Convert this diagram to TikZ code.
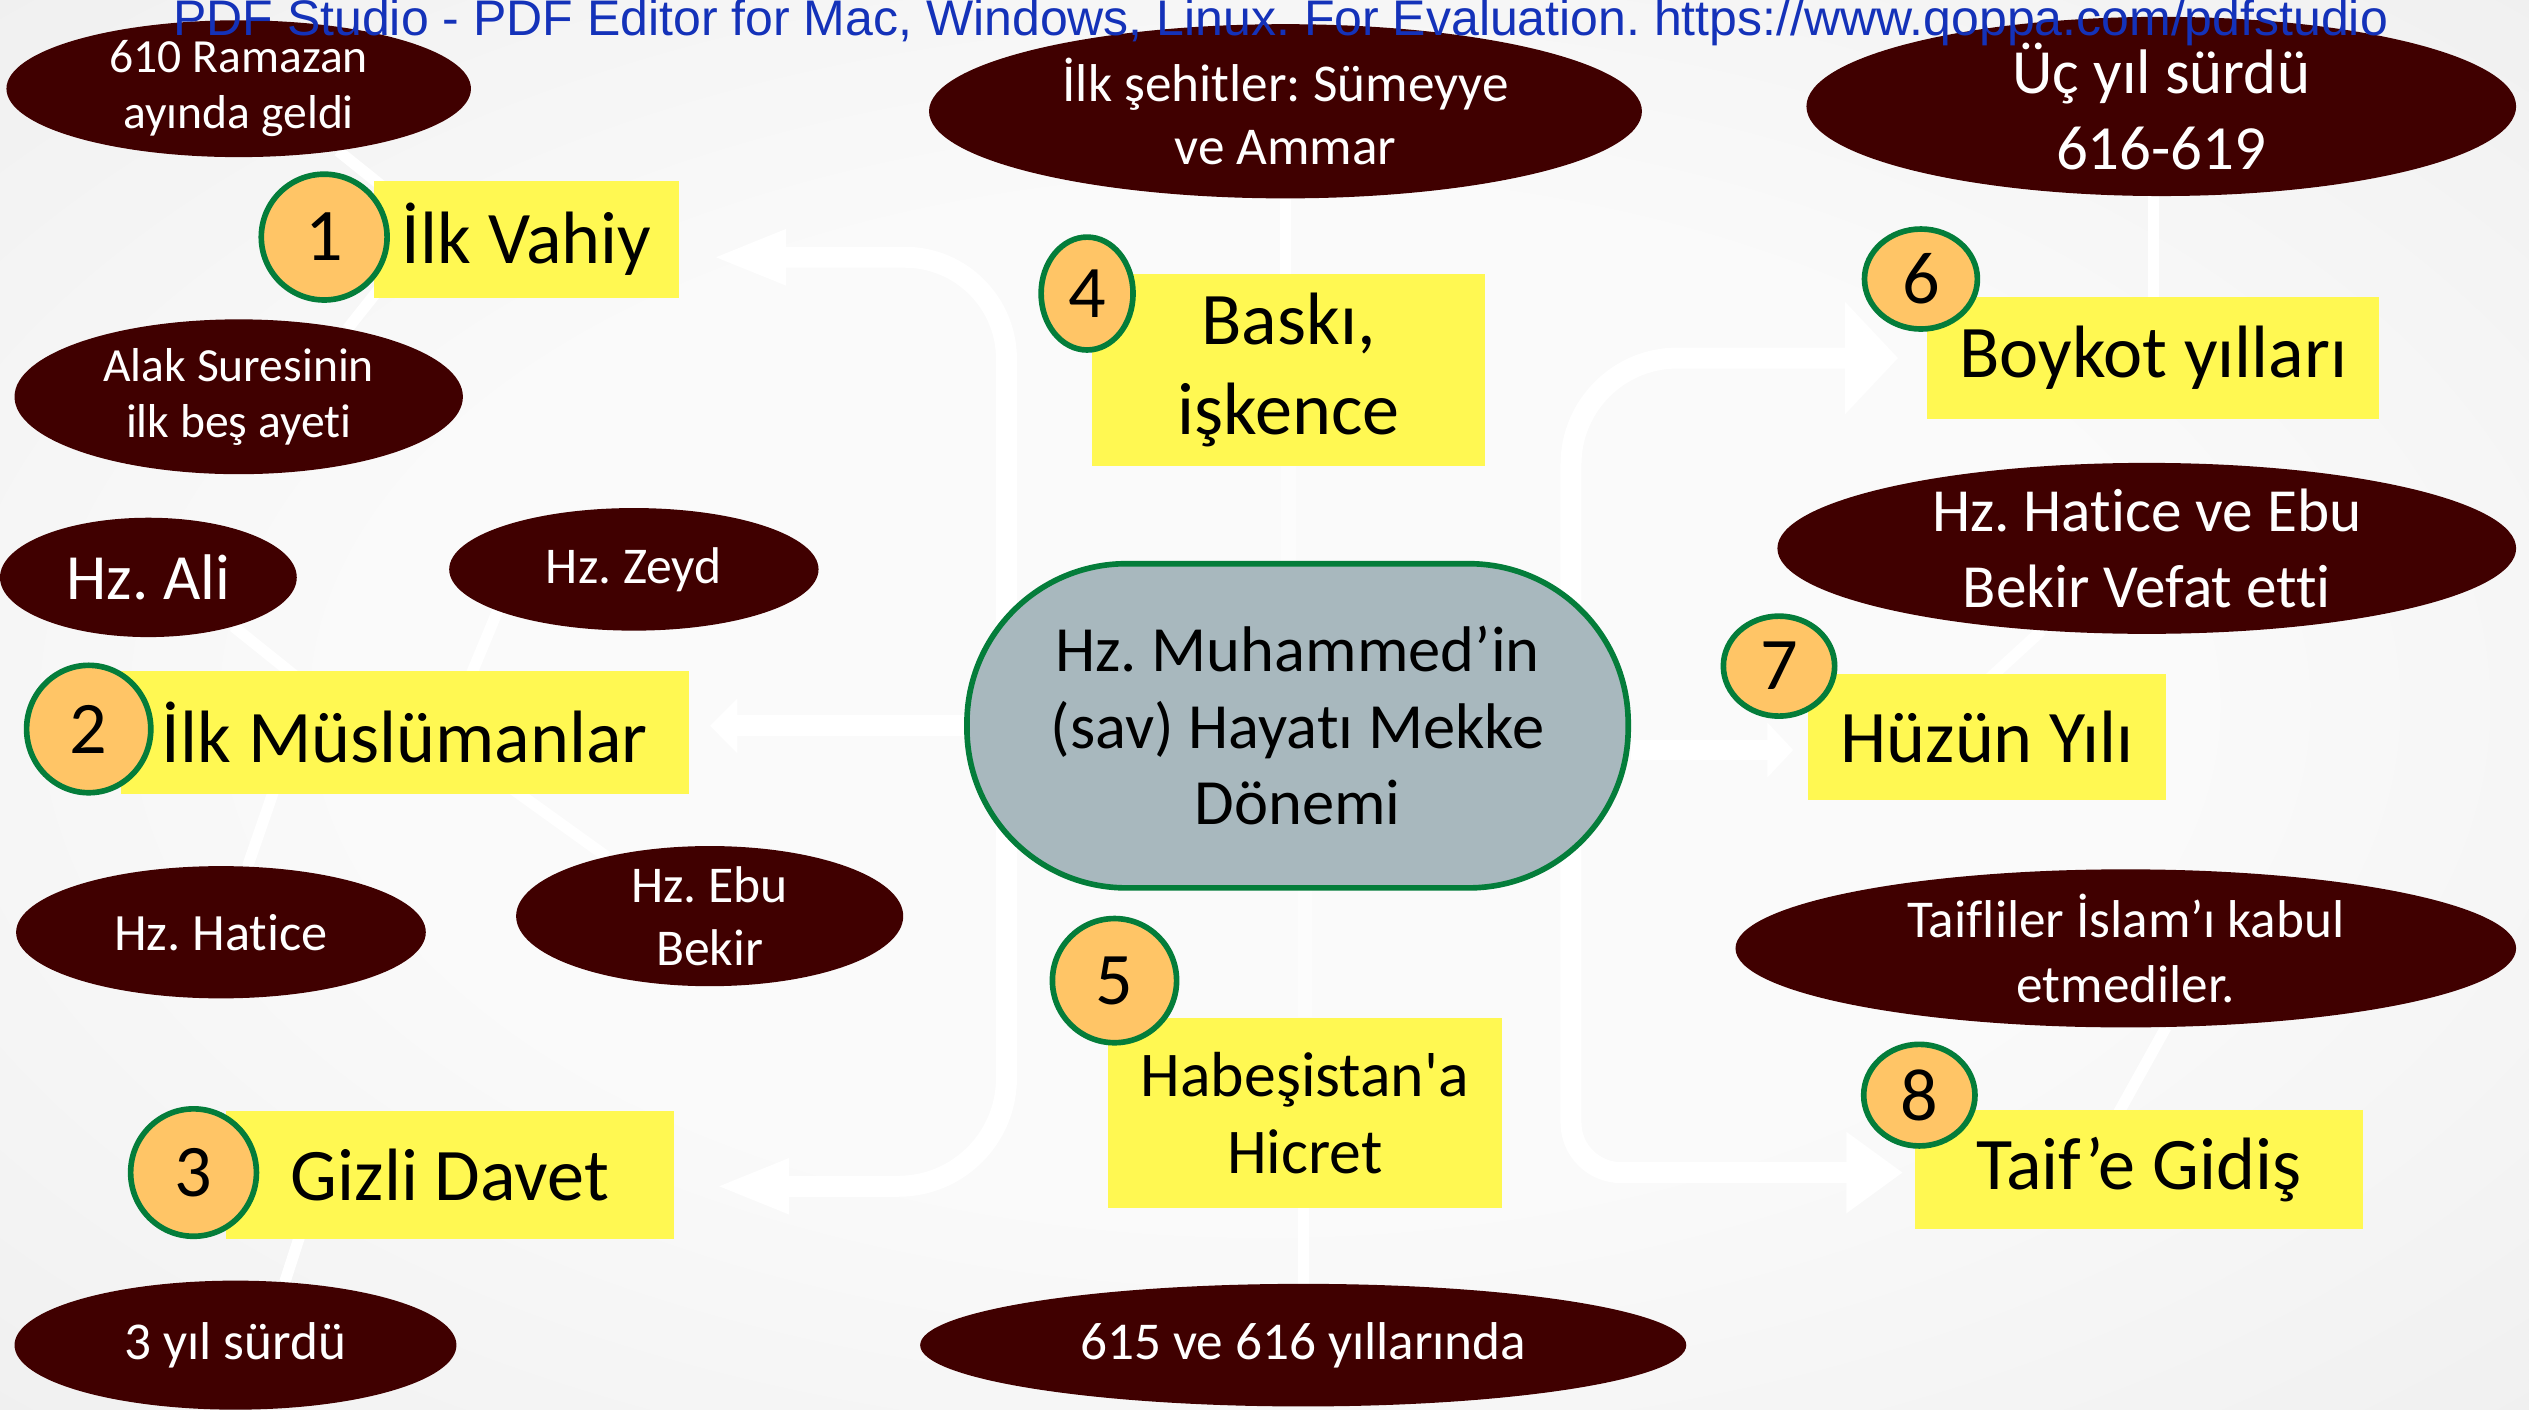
\documentclass[tikz,border=0pt]{standalone}
\usepackage{fontspec}
\setmainfont{Carlito}[Ligatures={TeX,NoCommon}]
\newfontfamily\wmfont{Liberation Sans}
\usetikzlibrary{shapes.geometric,arrows.meta,calc}
\definecolor{maroon}{RGB}{64,0,0}
\definecolor{boxyellow}{RGB}{255,248,82}
\definecolor{circorange}{RGB}{255,197,102}
\definecolor{circgreen}{RGB}{4,125,58}
\definecolor{cengray}{RGB}{168,184,190}
\definecolor{wmblue}{RGB}{20,50,185}
\definecolor{bgin}{RGB}{250,250,250}
\definecolor{bgmid}{RGB}{232,232,232}
\definecolor{bgout}{RGB}{208,208,208}
\pgfdeclareradialshading{bgshade}{\pgfpoint{0bp}{0bp}}{color(0bp)=(bgin); color(18bp)=(bgin); color(50bp)=(bgmid); color(72bp)=(bgout)}
\pgfdeclarelayer{bg}
\pgfdeclarelayer{lines}
\pgfsetlayers{bg,lines,main}
\newcommand{\fs}[2]{\fontsize{#1}{#2}\selectfont}
\frenchspacing
\begin{document}
\begin{tikzpicture}[x=1pt,y=-1pt,
  ell/.style={ellipse, fill=maroon, text=white, inner sep=0pt, align=center},
  ybox/.style={rectangle, fill=boxyellow, inner sep=0pt, align=center, text=black, font=\fs{46}{56}},
  num/.style={ellipse, fill=circorange, draw=circgreen, line width=3.5pt, inner sep=0pt, font=\fs{46}{50}},
  spoke/.style={draw=white, line width=7pt},
  faint/.style={draw=white, line width=9pt, opacity=0.45},
  trunk/.style={draw=white, line width=13pt}]
\useasboundingbox (0,0) rectangle (1568,874);
\begin{pgfonlayer}{bg}
\shade[shading=bgshade] (0,0) rectangle (1568,874);
\end{pgfonlayer}

% ellipses
\node[ell, minimum width=288pt, minimum height=84pt, font=\fs{29.5}{35}] (e1) at (148,55) {610 Ramazan\\ayında geldi};
\node[ell, minimum width=278pt, minimum height=96pt, font=\fs{29.5}{35}] (e2) at (148,246) {Alak Suresinin\\ilk beş ayeti};
\node[ell, minimum width=184pt, minimum height=74pt, font=\fs{40}{42}] (e3) at (92,358) {Hz. Ali};
\node[ell, minimum width=229pt, minimum height=76pt, font=\fs{32}{36}] (e4) at (393,353) {Hz. Zeyd};
\node[ell, minimum width=254pt, minimum height=82pt, font=\fs{32.5}{36}] (e5) at (137,578) {Hz. Hatice};
\node[ell, minimum width=240pt, minimum height=84pt, font=\fs{32}{39}] (e6) at (440,568) {Hz. Ebu\\Bekir};
\node[ell, minimum width=274pt, minimum height=80pt, font=\fs{33}{36}] (e7) at (146,834) {3 yıl sürdü};
\node[ell, minimum width=442pt, minimum height=108pt, font=\fs{33}{39}] (e8) at (797,69) {İlk şehitler: Sümeyye\\ve Ammar};
\node[ell, minimum width=475pt, minimum height=76pt, font=\fs{33}{38}] (e9) at (808,834) {615 ve 616 yıllarında};
\node[ell, minimum width=440pt, minimum height=102pt, font=\fs{39}{47}] (e10) at (1340,66) {Üç yıl sürdü\\616-619};
\node[ell, minimum width=458pt, minimum height=106pt, font=\fs{38}{47}] (e11) at (1331,340) {Hz. Hatice ve Ebu\\Bekir Vefat etti};
\node[ell, minimum width=484pt, minimum height=98pt, font=\fs{33}{40}] (e12) at (1318,588) {Taifliler İslam’ı kabul\\etmediler.};

% yellow boxes
\node[ybox, minimum width=189pt, minimum height=73pt] (b1) at (326.5,148.5) {İlk Vahiy};
\node[ybox, minimum width=352pt, minimum height=76pt] (b2) at (251,454) {İlk Müslümanlar};
\node[ybox, minimum width=278pt, minimum height=79pt] (b3) at (279,728.5) {Gizli Davet};
\node[ybox, minimum width=244pt, minimum height=119pt] (b4) at (799,229.5) {Baskı,\\işkence};
\node[ybox, minimum width=244pt, minimum height=118pt, font=\fs{39.5}{48}] (b5) at (809,690) {Habeşistan\textquotesingle a\\Hicret};
\node[ybox, minimum width=280pt, minimum height=76pt] (b6) at (1335,222) {Boykot yılları};
\node[ybox, minimum width=222pt, minimum height=78pt] (b7) at (1232,457) {Hüzün Yılı};
\node[ybox, minimum width=278pt, minimum height=74pt] (b8) at (1326,725) {Taif’e Gidiş};

% number circles
\node[num, minimum width=78pt, minimum height=78pt] (c1) at (201,147) {1};
\node[num, minimum width=77pt, minimum height=79pt] (c2) at (55,452) {2};
\node[num, minimum width=78pt, minimum height=79pt] (c3) at (120,727) {3};
\node[num, minimum width=57pt, minimum height=70pt] (c4) at (674,182) {4};
\node[num, minimum width=77pt, minimum height=77pt] (c5) at (691,608) {5};
\node[num, minimum width=70pt, minimum height=62pt] (c6) at (1191,173) {6};
\node[num, minimum width=69pt, minimum height=62pt] (c7) at (1103,413) {7};
\node[num, minimum width=69pt, minimum height=63pt] (c8) at (1190,679) {8};

% central node
\node[draw=circgreen, line width=3.5pt, fill=cengray, rounded corners=99pt, minimum width=410pt, minimum height=201pt, inner sep=0pt, align=center, font=\fs{40}{47.5}] (cen) at (804.5,450) {Hz. Muhammed’in\\(sav) Hayatı Mekke\\Dönemi};

\coordinate (jl) at (624,450);
\coordinate (jr) at (974,465);

\begin{pgfonlayer}{lines}
% spokes
\draw[spoke] (e1.328) -- ([shift={(13,10)}]b1.north west);
\draw[spoke] (e2.32) -- ([shift={(8,-12)}]b1.south west);
\draw[spoke] (e3.330) -- ([shift={(114,8)}]b2.north west);
\draw[spoke] (e4.197) -- ([shift={(215,8)}]b2.north west);
\draw[spoke] (e5.68) -- ([shift={(97,-8)}]b2.south west);
\draw[spoke] (e6.150) -- ([shift={(236,-8)}]b2.south west);
\draw[spoke] (e7.52) -- ([shift={(48,-8)}]b3.south west);
\draw[spoke] (e8) -- (e8 |- b4.center);
\draw[spoke] (e9) -- (e9 |- b5.center);
\draw[spoke] (b6.center) -- (b6 |- e10.center);
\draw[spoke] (e11.218) -- ([shift={(107,8)}]b7.north west);
\draw[spoke] (e12.297) -- ([shift={(124,7)}]b8.north west);
\draw[faint] (b4) -- (b4 |- cen.center);
\draw[faint] (b5) -- (b5 |- cen.center);
% trunks
\draw[trunk, -{Triangle[length=46pt,width=31pt]}, rounded corners=63pt] (jl) |- ([shift={(20,11)}]b1.east);
\draw[trunk, -{Triangle[length=46pt,width=31pt]}, rounded corners=67pt] (jl) |- ([shift={(25,7)}]b3.east);
\draw[trunk, -{Triangle[length=17pt,width=33pt]}] (cen.west) -- ([shift={(13,-4)}]b2.east);
\draw[trunk, -{Triangle[length=16pt,width=33pt]}] ([yshift=-15pt]cen.east) -- ([shift={(-9,8)}]b7.west);
\draw[trunk, -{Triangle[length=33pt,width=68pt]}, rounded corners=66pt] (jr) |- ([shift={(-18,0)}]b6.west);
\draw[trunk, -{Triangle[length=35pt,width=48pt]}, rounded corners=31pt] (jr) |- ([shift={(-7,2)}]b8.west);
\end{pgfonlayer}

% watermark
\node[anchor=base, inner sep=0pt, text=wmblue, font=\wmfont\fs{31}{32}] (wm) at (794,22) {PDF Studio - PDF Editor for Mac, Windows, Linux. For Evaluation. https://www.qoppa.com/pdfstudio};
\end{tikzpicture}
\end{document}
